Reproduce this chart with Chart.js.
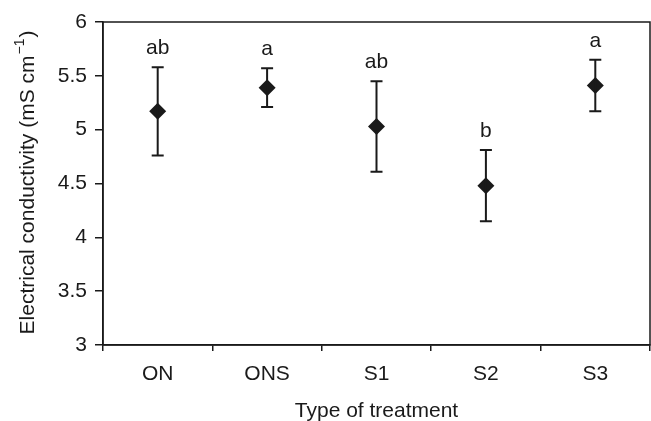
<!DOCTYPE html>
<html>
<head>
<meta charset="utf-8">
<script src="https://cdn.jsdelivr.net/npm/chart.js@4"></script>
<style>
  html, body { margin: 0; padding: 0; background: #fff; }
  #wrap { width: 651px; height: 421px; }
</style>
</head>
<body>
<div id="wrap"><canvas id="ecChart" width="651" height="421"></canvas></div>
<script>
// data
const treatments = ["ON", "ONS", "S1", "S2", "S3"];
const meanEC = [5.17, 5.39, 5.03, 4.48, 5.41];
const sdEC = [0.41, 0.18, 0.42, 0.33, 0.24];
const groupLetters = ["ab", "a", "ab", "b", "a"];
const yTicks = [3, 3.5, 4, 4.5, 5, 5.5, 6];

const fontFam = "'Liberation Sans', Arial, sans-serif";
const ink = "#1a1a1a";

// error bars, letters, frame and y title with superscript
const extras = {
    id: "extras",
    afterDatasetsDraw(chart) {
        const ctx = chart.ctx;
        const x = chart.scales.x, y = chart.scales.y;
        const a = chart.chartArea;
        ctx.save();
        ctx.strokeStyle = ink;
        ctx.lineWidth = 2;
        for (let i = 0; i < meanEC.length; i++) {
            let px = x.getPixelForValue(i);
            let top = y.getPixelForValue(meanEC[i] + sdEC[i]);
            let bot = y.getPixelForValue(meanEC[i] - sdEC[i]);
            ctx.beginPath();
            ctx.moveTo(px, top); ctx.lineTo(px, bot);
            ctx.moveTo(px - 6, top); ctx.lineTo(px + 6, top);
            ctx.moveTo(px - 6, bot); ctx.lineTo(px + 6, bot);
            ctx.stroke();
            ctx.fillStyle = ink;
            ctx.font = "21px " + fontFam;
            ctx.textAlign = "center";
            ctx.textBaseline = "alphabetic";
            ctx.fillText(groupLetters[i], px, top - 13);
        }
        // box round the plot
        ctx.lineWidth = 1.5;
        ctx.strokeRect(a.left, a.top, a.right - a.left, a.bottom - a.top);

        // y axis title
        ctx.translate(28, (a.top + a.bottom) / 2);
        ctx.rotate(-Math.PI / 2);
        ctx.textBaseline = "middle";
        ctx.textAlign = "left";
        let main = "Electrical conductivity (mS cm";
        let sup = "\u22121";
        ctx.font = "21px " + fontFam;
        let w1 = ctx.measureText(main).width;
        let w3 = ctx.measureText(")").width;
        ctx.font = "14px " + fontFam;
        let w2 = ctx.measureText(sup).width;
        let start = -(w1 + w2 + w3) / 2;
        ctx.font = "21px " + fontFam;
        ctx.fillText(main, start, 0);
        ctx.font = "14px " + fontFam;
        ctx.fillText(sup, start + w1 + 1, -8);
        ctx.font = "21px " + fontFam;
        ctx.fillText(")", start + w1 + w2 + 2, 0);
        ctx.restore();
    }
};

const ctx = document.getElementById("ecChart").getContext("2d");
new Chart(ctx, {
    type: "line",
    data: {
        labels: treatments,
        datasets: [{
            label: "EC",
            data: meanEC,
            showLine: false,
            pointStyle: "rectRot",
            pointRadius: 8.5,
            pointHoverRadius: 8.5,
            backgroundColor: ink,
            borderColor: ink,
            borderWidth: 0
        }]
    },
    options: {
        responsive: false,
        animation: false,
        layout: { autoPadding: false, padding: { top: 22, right: 1, left: 0, bottom: 0 } },
        plugins: { legend: { display: false }, tooltip: { enabled: false } },
        scales: {
            x: {
                type: "category",
                offset: true,
                grid: { offset: true, drawOnChartArea: false, tickLength: 6, color: ink, lineWidth: 1.5 },
                border: { color: ink, width: 1.5 },
                ticks: { color: ink, font: { family: fontFam, size: 21 }, padding: 11, maxRotation: 0 },
                title: { display: true, text: "Type of treatment", color: ink,
                         font: { family: fontFam, size: 21, lineHeight: 0.9 }, padding: 0 },
                afterFit(s) {
                    s.height = 76;
                    s.paddingLeft = 0;
                    s.paddingRight = 0;
                }
            },
            y: {
                min: 3,
                max: 6,
                afterBuildTicks(s) { s.ticks = yTicks.map(v => ({ value: v })); },
                grid: { drawOnChartArea: false, tickLength: 8, color: ink, lineWidth: 1.5 },
                border: { color: ink, width: 1.5 },
                ticks: { color: ink, font: { family: fontFam, size: 21 }, padding: 8,
                         callback: v => String(v) },
                afterFit(s) {
                    s.width = 103;
                    s.paddingTop = 0;
                    s.paddingBottom = 0;
                }
            }
        }
    },
    plugins: [extras]
});
</script>
</body>
</html>
